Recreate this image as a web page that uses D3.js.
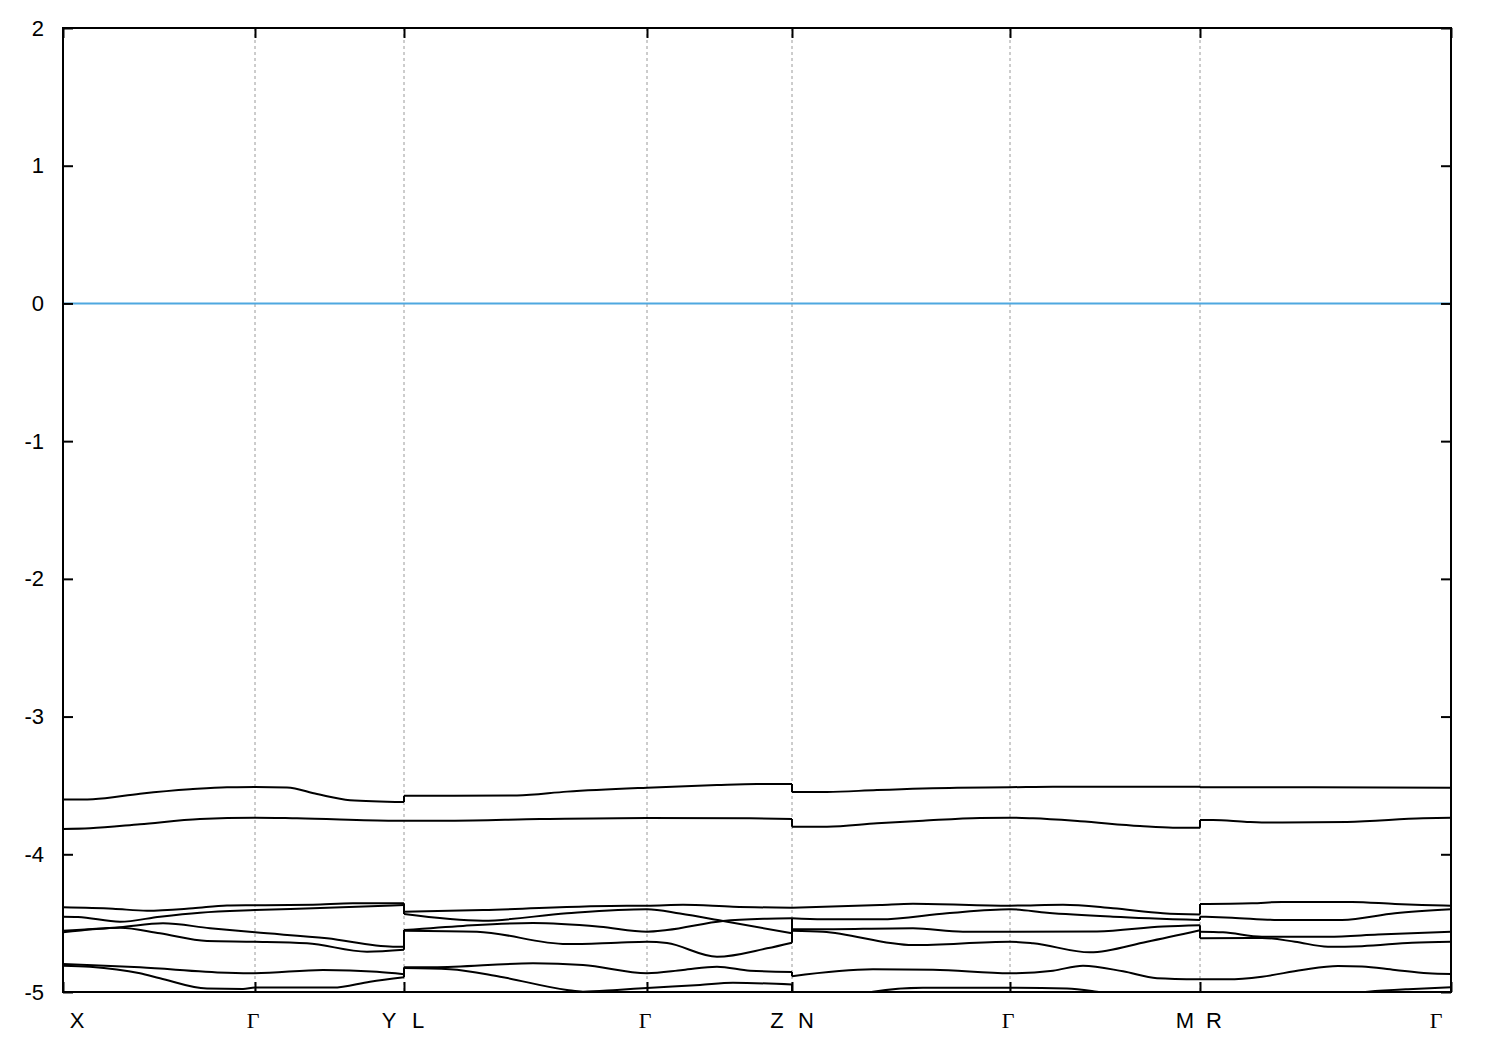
<!DOCTYPE html>
<html>
<head>
<meta charset="utf-8">
<script src="https://cdn.jsdelivr.net/npm/d3@7"></script>
<style>
  html, body { margin: 0; padding: 0; background: #ffffff; }
  svg { display: block; }
</style>
</head>
<body>
<div id="chart"></div>
<script>
// ---------------- data ----------------
// k-path high-symmetry positions (path-length units) and their labels
const kTicks  = [0, 0.192, 0.341, 0.584, 0.729, 0.947, 1.137, 1.388];
const kLabels = ["X", "Γ", "Y|L", "Γ", "Z|N", "Γ", "M|R", "Γ"];
const yTicks  = [-5, -4, -3, -2, -1, 0, 1, 2];
const yDomain = [-5, 2];
const fermiLevel = 0;

// Segment X – Γ – Y : each band is a list of [k, E(eV)]
const seg1Bands = [
  [[0,-3.603],[0.030,-3.600],[0.077,-3.560],[0.127,-3.528],[0.164,-3.513],[0.192,-3.512],[0.224,-3.515],[0.254,-3.563],[0.287,-3.607],[0.341,-3.620]],
  [[0,-3.816],[0.027,-3.811],[0.077,-3.782],[0.137,-3.744],[0.192,-3.734],[0.234,-3.739],[0.330,-3.756],[0.341,-3.757]],
  [[0,-4.385],[0.050,-4.395],[0.084,-4.410],[0.130,-4.392],[0.164,-4.372],[0.192,-4.370],[0.250,-4.366],[0.290,-4.356],[0.341,-4.356]],
  [[0,-4.453],[0.015,-4.455],[0.057,-4.490],[0.097,-4.453],[0.137,-4.424],[0.192,-4.405],[0.250,-4.392],[0.341,-4.368]],
  [[0,-4.555],[0.057,-4.530],[0.100,-4.501],[0.147,-4.537],[0.192,-4.567],[0.264,-4.610],[0.330,-4.671],[0.341,-4.671]],
  [[0,-4.567],[0.057,-4.533],[0.097,-4.574],[0.144,-4.630],[0.192,-4.635],[0.244,-4.646],[0.304,-4.707],[0.341,-4.693]],
  [[0,-4.797],[0.030,-4.805],[0.077,-4.821],[0.164,-4.860],[0.192,-4.864],[0.260,-4.840],[0.314,-4.853],[0.341,-4.871]],
  [[0,-4.809],[0.027,-4.816],[0.077,-4.864],[0.097,-4.900],[0.144,-4.975],[0.180,-4.978],[0.192,-4.968],[0.270,-4.968],[0.307,-4.925],[0.341,-4.893]]
];

// Segment L – Γ – Z
const seg2Bands = [
  [[0.341,-3.575],[0.454,-3.573],[0.504,-3.545],[0.584,-3.516],[0.654,-3.497],[0.694,-3.490],[0.729,-3.490]],
  [[0.341,-3.756],[0.387,-3.756],[0.477,-3.744],[0.584,-3.736],[0.687,-3.739],[0.729,-3.744]],
  [[0.341,-4.417],[0.420,-4.405],[0.564,-4.373],[0.584,-4.373],[0.620,-4.366],[0.670,-4.381],[0.729,-4.388]],
  [[0.341,-4.434],[0.420,-4.482],[0.504,-4.428],[0.584,-4.399],[0.617,-4.430],[0.660,-4.484],[0.729,-4.574]],
  [[0.341,-4.550],[0.400,-4.520],[0.470,-4.499],[0.537,-4.526],[0.584,-4.562],[0.604,-4.550],[0.660,-4.484],[0.704,-4.468],[0.729,-4.465]],
  [[0.341,-4.555],[0.414,-4.562],[0.504,-4.652],[0.554,-4.642],[0.584,-4.635],[0.604,-4.645],[0.654,-4.744],[0.704,-4.683],[0.729,-4.642]],
  [[0.341,-4.821],[0.370,-4.821],[0.470,-4.792],[0.520,-4.804],[0.584,-4.864],[0.620,-4.840],[0.654,-4.816],[0.687,-4.845],[0.729,-4.855]],
  [[0.341,-4.826],[0.387,-4.835],[0.437,-4.889],[0.504,-4.985],[0.520,-4.998],[0.554,-4.985],[0.584,-4.971],[0.637,-4.949],[0.670,-4.933],[0.729,-4.945]]
];

// Segment N – Γ – M
const seg3Bands = [
  [[0.729,-3.548],[0.764,-3.548],[0.814,-3.533],[0.894,-3.516],[0.947,-3.513],[0.990,-3.509],[1.137,-3.509]],
  [[0.729,-3.800],[0.764,-3.800],[0.814,-3.775],[0.860,-3.756],[0.917,-3.736],[0.947,-3.734],[0.970,-3.739],[1.017,-3.760],[1.077,-3.795],[1.110,-3.807],[1.137,-3.807]],
  [[0.729,-4.388],[0.817,-4.368],[0.850,-4.359],[0.947,-4.373],[1.000,-4.366],[1.050,-4.392],[1.100,-4.428],[1.137,-4.438]],
  [[0.729,-4.465],[0.760,-4.472],[0.817,-4.472],[0.884,-4.428],[0.947,-4.399],[0.984,-4.424],[1.050,-4.453],[1.137,-4.477]],
  [[0.729,-4.545],[0.750,-4.545],[0.850,-4.537],[0.900,-4.562],[0.947,-4.562],[1.034,-4.560],[1.100,-4.524],[1.137,-4.515]],
  [[0.729,-4.555],[0.760,-4.562],[0.850,-4.659],[0.947,-4.635],[0.970,-4.646],[1.027,-4.712],[1.084,-4.635],[1.137,-4.552]],
  [[0.729,-4.885],[0.810,-4.835],[0.870,-4.838],[0.947,-4.864],[0.990,-4.845],[1.020,-4.809],[1.060,-4.850],[1.094,-4.900],[1.137,-4.908]],
  [[0.729,-5.060],[0.790,-5.030],[0.810,-4.998],[0.860,-4.969],[0.947,-4.969],[1.004,-4.975],[1.034,-4.998],[1.070,-5.040],[1.137,-5.060]]
];

// Segment R – Γ
const seg4Bands = [
  [[1.137,-3.513],[1.250,-3.514],[1.388,-3.516]],
  [[1.137,-3.751],[1.150,-3.751],[1.184,-3.765],[1.207,-3.770],[1.284,-3.765],[1.360,-3.739],[1.388,-3.734]],
  [[1.137,-4.361],[1.189,-4.356],[1.219,-4.346],[1.289,-4.346],[1.332,-4.361],[1.359,-4.368],[1.388,-4.373]],
  [[1.137,-4.453],[1.169,-4.460],[1.215,-4.477],[1.279,-4.477],[1.332,-4.428],[1.388,-4.399]],
  [[1.137,-4.562],[1.160,-4.566],[1.199,-4.598],[1.265,-4.598],[1.315,-4.583],[1.388,-4.562]],
  [[1.137,-4.610],[1.199,-4.607],[1.232,-4.635],[1.265,-4.671],[1.299,-4.667],[1.349,-4.642],[1.388,-4.635]],
  [[1.137,-4.908],[1.165,-4.908],[1.199,-4.889],[1.239,-4.840],[1.275,-4.811],[1.299,-4.814],[1.332,-4.840],[1.365,-4.864],[1.388,-4.869]],
  [[1.137,-5.070],[1.250,-5.040],[1.305,-4.998],[1.345,-4.980],[1.388,-4.966]]
];

const segments = [seg1Bands, seg2Bands, seg3Bands, seg4Bands];

// ---------------- drawing ----------------
const W = 1500, H = 1050;
const margin = {left: 63, right: 49, top: 28, bottom: 58};
const innerW = W - margin.left - margin.right;
const innerH = H - margin.top - margin.bottom;

const x = d3.scaleLinear().domain([kTicks[0], kTicks[kTicks.length - 1]]).range([0, innerW]);
const y = d3.scaleLinear().domain(yDomain).range([innerH, 0]);

const svg = d3.select("#chart").append("svg")
  .attr("width", W).attr("height", H)
  .attr("viewBox", `0 0 ${W} ${H}`);

svg.append("defs").append("clipPath").attr("id", "plotclip")
  .append("rect").attr("x", 0).attr("y", 0).attr("width", innerW).attr("height", innerH);

const g = svg.append("g").attr("transform", `translate(${margin.left},${margin.top})`);

// vertical dotted grid at interior k points
g.append("g").selectAll("line")
  .data(kTicks.slice(1, -1))
  .join("line")
  .attr("x1", d => x(d)).attr("x2", d => x(d))
  .attr("y1", 0).attr("y2", innerH)
  .attr("stroke", "#9a9a9a")
  .attr("stroke-width", 1)
  .attr("stroke-dasharray", "3,3");

// Fermi level line
g.append("line")
  .attr("x1", 0).attr("x2", innerW)
  .attr("y1", y(fermiLevel)).attr("y2", y(fermiLevel))
  .attr("stroke", "#4fa8e0")
  .attr("stroke-width", 2);

// bands
const line = d3.line()
  .x(d => x(d[0]))
  .y(d => y(d[1]))
  .curve(d3.curveMonotoneX);

const bandsG = g.append("g").attr("clip-path", "url(#plotclip)");
segments.forEach((seg, si) => {
  bandsG.append("g").attr("class", "seg" + si)
    .selectAll("path")
    .data(seg)
    .join("path")
    .attr("d", line)
    .attr("fill", "none")
    .attr("stroke", "#000")
    .attr("stroke-width", 2)
    .attr("stroke-linejoin", "round");
});

// vertical jumps at path discontinuities (Y|L, Z|N, M|R)
for (let s = 0; s < segments.length - 1; s++) {
  const a = segments[s], b = segments[s + 1];
  a.forEach((band, i) => {
    const end = band[band.length - 1];
    const start = b[i][0];
    bandsG.append("line")
      .attr("x1", x(end[0])).attr("x2", x(start[0]))
      .attr("y1", y(end[1])).attr("y2", y(start[1]))
      .attr("stroke", "#000").attr("stroke-width", 2);
  });
}

// y ticks (left and mirrored right, inward)
const yAxisL = d3.axisLeft(y).tickValues(yTicks).tickSize(-10).tickPadding(19).tickFormat(d3.format("d"));
const yAxisR = d3.axisRight(y).tickValues(yTicks).tickSize(-10).tickFormat("");
const yl = g.append("g").call(yAxisL);
const yr = g.append("g").attr("transform", `translate(${innerW},0)`).call(yAxisR);
[yl, yr].forEach(a => {
  a.select(".domain").remove();
  a.selectAll(".tick line").attr("stroke", "#000").attr("stroke-width", 2);
});
yl.selectAll(".tick text")
  .attr("font-family", "'Liberation Sans', Arial, sans-serif")
  .attr("font-size", 22)
  .attr("fill", "#000")
  .text(d => d < 0 ? "-" + Math.abs(d) : String(d));

// x ticks (bottom and mirrored top, inward)
const xAxisB = d3.axisBottom(x).tickValues(kTicks).tickSize(-10).tickFormat("");
const xAxisT = d3.axisTop(x).tickValues(kTicks).tickSize(-10).tickFormat("");
const xb = g.append("g").attr("transform", `translate(0,${innerH})`).call(xAxisB);
const xt = g.append("g").call(xAxisT);
[xb, xt].forEach(a => {
  a.select(".domain").remove();
  a.selectAll(".tick line").attr("stroke", "#000").attr("stroke-width", 2);
});

// x labels
const labG = g.append("g");
const labelY = innerH + 36;
function addLabel(txt, px) {
  const isGreek = /[\u0370-\u03FF]/.test(txt);
  labG.append("text")
    .attr("x", px).attr("y", labelY)
    .attr("text-anchor", "middle")
    .attr("font-family", isGreek ? "'Liberation Serif', 'DejaVu Serif', serif" : "'Liberation Sans', Arial, sans-serif")
    .attr("font-size", 22)
    .attr("fill", "#000")
    .text(txt);
}
kLabels.forEach((lab, i) => {
  const px = x(kTicks[i]);
  if (lab.includes("|")) {
    const [l, r] = lab.split("|");
    addLabel(l, px - 15);
    addLabel(r, px + 14);
  } else if (i === 0) {
    addLabel(lab, px + 14);
  } else if (i === kLabels.length - 1) {
    addLabel(lab, px - 15);
  } else {
    addLabel(lab, px - 2);
  }
});

// frame
g.append("rect")
  .attr("x", 0).attr("y", 0).attr("width", innerW).attr("height", innerH)
  .attr("fill", "none").attr("stroke", "#000").attr("stroke-width", 2);
</script>
</body>
</html>
